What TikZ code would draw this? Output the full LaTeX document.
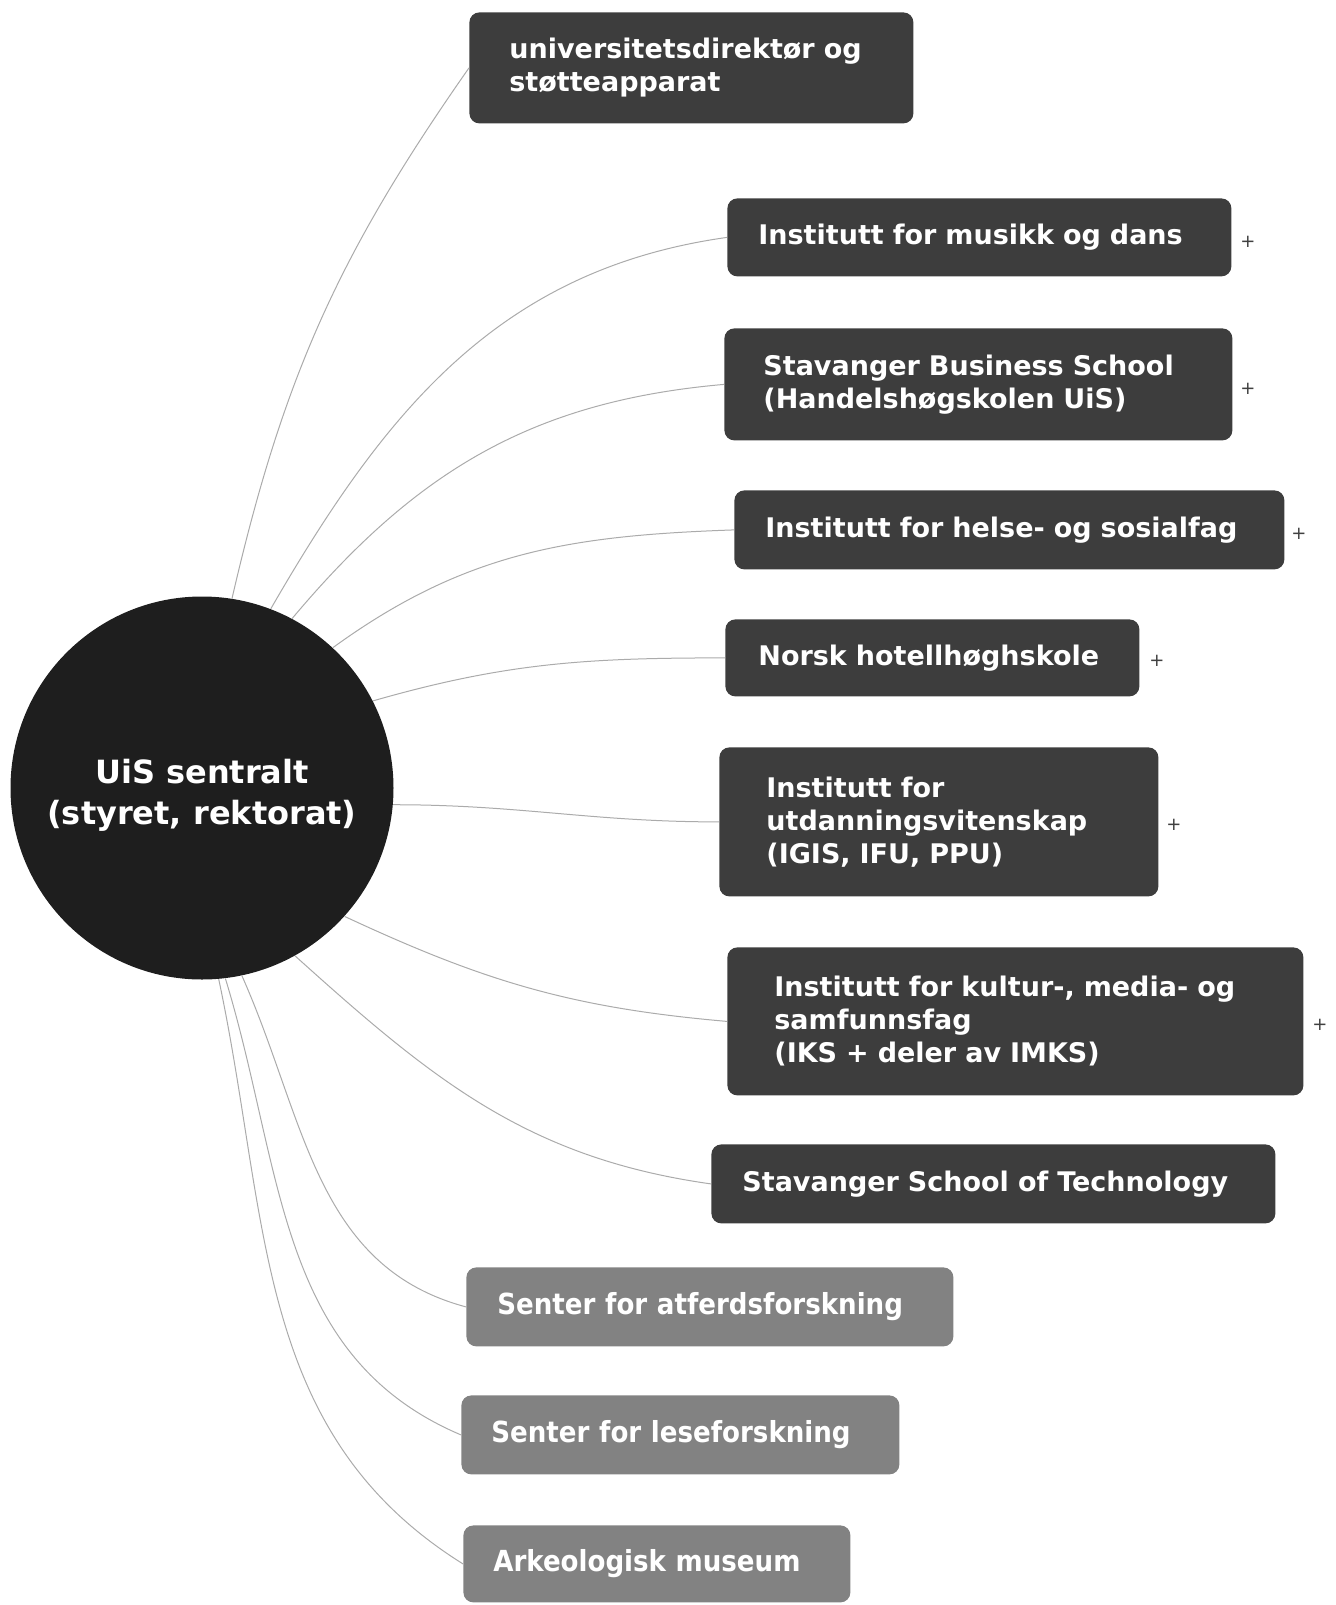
\documentclass[tikz,border=0pt]{standalone}
\usepackage{fontspec}
\setmainfont{DejaVu Sans}
\newfontfamily\condfont{DejaVu Sans Condensed}
\definecolor{hubgray}{HTML}{1E1E1E}
\definecolor{unitgray}{HTML}{3D3D3D}
\definecolor{sentergray}{HTML}{828282}
\definecolor{linkgray}{HTML}{ABABAB}
\tikzset{
  hub/.style={circle, fill=hubgray, text=white, minimum size=191.5pt, inner sep=0pt, align=center, font=\bfseries\fontsize{16}{20.5}\selectfont},
  unit/.style={anchor=north west, rounded corners=5pt, fill=unitgray, text=white, align=left, inner xsep=15.5pt, inner ysep=0pt, font=\bfseries\fontsize{13.5}{16.5}\selectfont},
  senter/.style={unit, fill=sentergray, inner xsep=15pt, font=\condfont\bfseries\fontsize{14.5}{17}\selectfont},
  expand/.style={inner sep=0pt, text=black!75, font=\fontsize{9}{9}\selectfont},
  link/.style={draw=linkgray, line width=0.5pt}
}
\begin{document}
\begin{tikzpicture}[x=0.5pt,y=-0.5pt]
    \useasboundingbox (0,0) rectangle (1335,1605);

        % Centre
        \node[hub] (hub) at (202,788) {\rule{0pt}{19pt}UiS sentralt\\(styret, rektorat)};

        % Administration
        \node[unit, inner xsep=20pt, text width=182pt, minimum height=55.5pt] (univ) at (469,12) {universitetsdirektør og\\støtteapparat};

        % Institutes
        \node[unit, text width=221pt, minimum height=39pt] (musikk) at (727,198) {Institutt for musikk og dans};
        \node[unit, inner xsep=19.5pt, text width=215pt, minimum height=56pt] (sbs) at (724,328) {Stavanger Business School\\(Handelshøgskolen UiS)};
        \node[unit, text width=244pt, minimum height=39.5pt] (helse) at (734,490) {Institutt for helse- og sosialfag};
        \node[unit, inner xsep=16.5pt, text width=174pt, minimum height=38.5pt] (hotell) at (725,619) {Norsk hotellhøghskole};
        \node[unit, inner xsep=23.5pt, text width=172.5pt, minimum height=74.5pt] (utdann) at (719,747) {Institutt for\\utdanningsvitenskap\\(IGIS, IFU, PPU)};
        \node[unit, inner xsep=23.5pt, text width=241pt, minimum height=74pt] (kultur) at (727,947) {Institutt for kultur-, media- og\\samfunnsfag\\(IKS + deler av IMKS)};
        \node[unit, text width=251pt, minimum height=39.5pt] (sst) at (711,1144) {Stavanger School of Technology};

        % Centres and museum
        \node[senter, inner xsep=15.5pt, text width=212.5pt, minimum height=39.5pt] (atferd) at (466,1267) {Senter for atferdsforskning};
        \node[senter, text width=189pt, minimum height=39.5pt] (lese) at (461,1395) {Senter for leseforskning};
        \node[senter, text width=163.5pt, minimum height=38.5pt] (arkeo) at (463,1525) {Arkeologisk museum};

        % Expand marks
        \node[expand] (plusmusikk) at (1248,242) {+};
        \node[expand] (plussbs) at (1248,389) {+};
        \node[expand] (plushelse) at (1299,534) {+};
        \node[expand] (plushotell) at (1157,661) {+};
        \node[expand] (plusutdann) at (1174,825) {+};
        \node[expand] (pluskultur) at (1320,1025) {+};

        % Connectors
        \draw[link] (hub.81) to[out=77,in=235] (univ.west);
        \draw[link] (hub.69) to[out=60,in=188] (musikk.west);
        \draw[link] (hub.62) to[out=50,in=185] (sbs.west);
        \draw[link] (hub.47) to[out=36,in=182] (helse.west);
        \draw[link] (hub.27) to[out=16,in=180] (hotell.west);
        \draw[link] (hub.-5) to[out=0,in=180] (utdann.west);
        \draw[link] (hub.-42) to[out=-25,in=175] (kultur.west);
        \draw[link] (hub.-61) to[out=-42,in=172] (sst.west);
        \draw[link] (hub.-78) to[out=-66,in=165] (atferd.west);
        \draw[link] (hub.-83) to[out=-73,in=157] (lese.west);
        \draw[link] (hub.-85) to[out=-78,in=148] (arkeo.west);

\end{tikzpicture}
\end{document}
